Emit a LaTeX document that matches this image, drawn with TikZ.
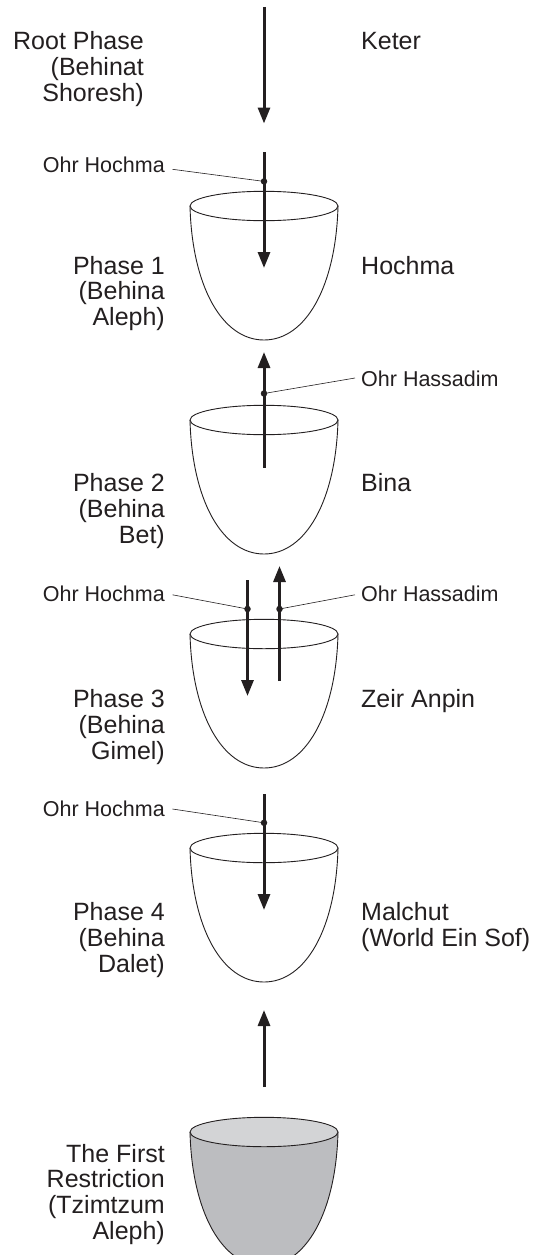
\documentclass[tikz,border=0pt]{standalone}
\usepackage{fontspec}
\setmainfont{Liberation Sans}
\newfontfamily\labfont{Liberation Sans}
\usetikzlibrary{arrows.meta}
\definecolor{ink}{HTML}{231F20}
\definecolor{bodygray}{HTML}{BCBDC0}
\definecolor{rimgray}{HTML}{D3D4D6}
\newcommand\rblock[1]{\vtop{\halign{\hfil##\cr#1\crcr}}}
\newcommand\lblock[1]{\vtop{\halign{##\hfil\cr#1\crcr}}}
\tikzset{
  lab/.style={font=\labfont\fontsize{25}{25.8}\selectfont, text=ink, inner sep=0pt},
  ohr/.style={font=\fontsize{21.5}{23}\selectfont, text=ink, inner sep=0pt},
  beam/.style={line width=3pt, draw=ink, -{Triangle[length=16pt,width=12pt]}},
  leader/.style={line width=0.6pt, draw=ink},
  dotn/.style={circle, fill=ink, inner sep=0pt, minimum size=6.5pt},
  vline/.style={line width=0.9pt, draw=ink},
  cup/.pic={
    \draw[vline, fill=white] (-74,0) .. controls (-72,80) and (-42,134) .. (0,134)
       .. controls (42,134) and (72,80) .. (74,0);
    \draw[vline, fill=white] (0,0) ellipse[x radius=74, y radius=14.7];
  },
  graycup/.pic={
    \draw[vline, fill=bodygray] (-74,0) .. controls (-72,80) and (-42,134) .. (0,134)
       .. controls (42,134) and (72,80) .. (74,0);
    \draw[vline, fill=rimgray] (0,0) ellipse[x radius=74, y radius=14.7];
  }
}
\begin{document}
\begin{tikzpicture}[x=1pt,y=-1pt]
\useasboundingbox (0,0) rectangle (542,1255);
\fill[white] (0,0) rectangle (542,1255);
\clip (0,0) rectangle (542,1255);

% vessels
\pic at (264,206) {cup};
\pic at (264,420) {cup};
\pic at (264,634) {cup};
\pic at (264,848) {cup};
\pic at (264,1132) {graycup};

% beam end points
\coordinate (a0s) at (264,7);     \coordinate (a0e) at (264,123.5);
\coordinate (a1s) at (264,152);   \coordinate (a1e) at (264,268);
\coordinate (a2s) at (264,467.7); \coordinate (a2e) at (264,352);
\coordinate (a3ds) at (247.5,580); \coordinate (a3de) at (247.5,696);
\coordinate (a3us) at (279.5,681); \coordinate (a3ue) at (279.5,566);
\coordinate (a4s) at (264,794);   \coordinate (a4e) at (264,910);
\coordinate (a5s) at (264,1087);  \coordinate (a5e) at (264,1010);

\draw[beam] (a0s) -- (a0e);
\draw[beam] (a1s) -- (a1e);
\draw[beam] (a2s) -- (a2e);
\draw[beam] (a3ds) -- (a3de);
\draw[beam] (a3us) -- (a3ue);
\draw[beam] (a4s) -- (a4e);
\draw[beam] (a5s) -- (a5e);

% dots
\node[dotn] (d1) at (264,181.4) {};
\node[dotn] (d2) at (264,393.5) {};
\node[dotn] (d3l) at (247.5,609) {};
\node[dotn] (d3r) at (279.5,609) {};
\node[dotn] (d4) at (264,822.8) {};

% Ohr labels
\node[ohr, anchor=base east] (o1) at (165,172.5) {Ohr Hochma};
\node[ohr, anchor=base west] (o2) at (361,386.5) {Ohr Hassadim};
\node[ohr, anchor=base east] (o3l) at (165,601.5) {Ohr Hochma};
\node[ohr, anchor=base west] (o3r) at (361,601.5) {Ohr Hassadim};
\node[ohr, anchor=base east] (o4) at (165,816) {Ohr Hochma};

\coordinate (l1) at (172.5,169.3);
\coordinate (l2) at (355,378);
\coordinate (l3l) at (172.5,594.8);
\coordinate (l3r) at (355,594.8);
\coordinate (l4) at (172.5,809);
\draw[leader] (l1) -- (d1.center);
\draw[leader] (l2) -- (d2.center);
\draw[leader] (l3l) -- (d3l.center);
\draw[leader] (l3r) -- (d3r.center);
\draw[leader] (l4) -- (d4.center);

% phase labels
\node[lab, anchor=base east] (p0) at (144,49.5) {\rblock{Root Phase\cr (Behinat\cr Shoresh)}};
\node[lab, anchor=base west] (s0) at (361,49.5) {Keter};
\node[lab, anchor=base east] (p1) at (165,274) {\rblock{Phase 1\cr (Behina\cr Aleph)}};
\node[lab, anchor=base west] (s1) at (361,274) {Hochma};
\node[lab, anchor=base east] (p2) at (165,491.5) {\rblock{Phase 2\cr (Behina\cr Bet)}};
\node[lab, anchor=base west] (s2) at (361,491.5) {Bina};
\node[lab, anchor=base east] (p3) at (165,707.5) {\rblock{Phase 3\cr (Behina\cr Gimel)}};
\node[lab, anchor=base west] (s3) at (361,707.5) {Zeir Anpin};
\node[lab, anchor=base east] (p4) at (165,920.5) {\rblock{Phase 4\cr (Behina\cr Dalet)}};
\node[lab, anchor=base west] (s4) at (361,920.5) {\lblock{Malchut\cr (World Ein Sof)}};
\node[lab, anchor=base east] (p5) at (165,1162) {\rblock{The First\cr Restriction\cr (Tzimtzum\cr Aleph)}};
\end{tikzpicture}
\end{document}
